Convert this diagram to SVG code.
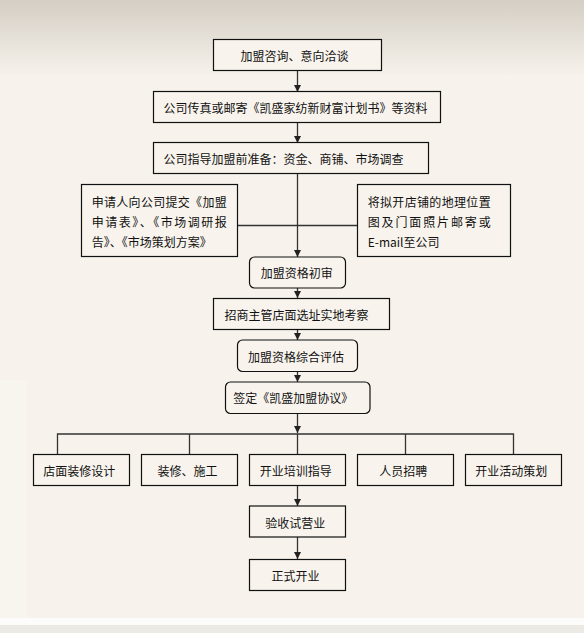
<svg xmlns="http://www.w3.org/2000/svg" width="584" height="633" viewBox="0 0 584 633">
<defs>
<linearGradient id="topg" x1="0" y1="0" x2="0" y2="1">
<stop offset="0" stop-color="#d4cec4"/>
<stop offset="1" stop-color="#f6f2eb"/>
</linearGradient>
<marker id="arr" markerUnits="userSpaceOnUse" markerWidth="8" markerHeight="8" refX="7" refY="3.5" orient="auto">
<path d="M0,0 L7,3.5 L0,7 z" fill="#222"/>
</marker>
<style>
.box{fill:#f8f4ed;stroke:#111;stroke-width:1.2}
.t{font-family:"Noto Sans CJK SC","Noto Sans",sans-serif;font-size:12px;fill:#111;dominant-baseline:central}
.m{text-anchor:middle}
.c{fill:none;stroke:#333;stroke-width:1.3}
.ca{fill:none;stroke:#333;stroke-width:1.3;marker-end:url(#arr)}
</style>
</defs>
<rect x="0" y="0" width="584" height="633" fill="#f7f3ec"/>
<rect x="0" y="0" width="584" height="75" fill="url(#topg)"/>
<rect x="0" y="380" width="27" height="238" fill="#f8f5ef"/>
<rect x="0" y="618" width="584" height="7" fill="#fcfcfa"/>
<rect x="0" y="625" width="584" height="8" fill="#ebeae5"/>

<g id="connectors">
<line class="ca" x1="297.5" y1="70" x2="297.5" y2="92"/>
<line class="ca" x1="297.5" y1="122" x2="297.5" y2="143"/>
<line class="ca" x1="297.5" y1="173" x2="297.5" y2="257"/>
<line class="c" x1="237.5" y1="225.5" x2="357.5" y2="225.5"/>
<line class="ca" x1="297.5" y1="288" x2="297.5" y2="298"/>
<line class="ca" x1="297.5" y1="329" x2="297.5" y2="340"/>
<line class="ca" x1="297.5" y1="371.5" x2="297.5" y2="382"/>
<line class="ca" x1="297.5" y1="413" x2="297.5" y2="433"/>
<polyline class="c" points="57.5,454 57.5,434 513.5,434 513.5,454"/>
<line class="c" x1="189.5" y1="434" x2="189.5" y2="454"/>
<line class="c" x1="297.5" y1="434" x2="297.5" y2="454"/>
<line class="c" x1="405.5" y1="434" x2="405.5" y2="454"/>
<line class="ca" x1="297.5" y1="485.5" x2="297.5" y2="506"/>
<line class="ca" x1="297.5" y1="537" x2="297.5" y2="559"/>
</g>

<g id="n1"><rect class="box" x="213.5" y="39.5" width="168" height="31"/><text class="t m" x="294.5" y="55">加盟咨询、意向洽谈</text></g>
<g id="n2"><rect class="box" x="153.5" y="91.5" width="287" height="31"/><text class="t" x="163.5" y="107">公司传真或邮寄《凯盛家纺新财富计划书》等资料</text></g>
<g id="n3"><rect class="box" x="153.5" y="142.5" width="275" height="31"/><text class="t" x="163.5" y="158">公司指导加盟前准备：资金、商铺、市场调查</text></g>
<g id="n4"><rect class="box" x="81.5" y="184.5" width="156" height="72"/>
<text class="t" x="91.7" y="201.7" textLength="135" lengthAdjust="spacing">申请人向公司提交《加盟</text>
<text class="t" x="91.7" y="221.7" textLength="135" lengthAdjust="spacing">申请表》、《市场调研报</text>
<text class="t" x="91.7" y="241.7">告》、《市场策划方案》</text></g>
<g id="n5"><rect class="box" x="357.5" y="184.5" width="153" height="72"/>
<text class="t" x="367.7" y="201.7" textLength="123" lengthAdjust="spacing">将拟开店铺的地理位置</text>
<text class="t" x="367.7" y="221.7" textLength="123" lengthAdjust="spacing">图及门面照片邮寄或</text>
<text class="t" x="367.7" y="241.7">E-mail至公司</text></g>
<g id="n6"><rect class="box" x="249.5" y="257" width="96" height="31" rx="5"/><text class="t m" x="296.7" y="272.5">加盟资格初审</text></g>
<g id="n7"><rect class="box" x="213.5" y="298.5" width="176" height="31"/><text class="t" x="224.6" y="314">招商主管店面选址实地考察</text></g>
<g id="n8"><rect class="box" x="237.5" y="340" width="120" height="31.5" rx="5"/><text class="t m" x="296" y="356">加盟资格综合评估</text></g>
<g id="n9"><rect class="box" x="225.5" y="382" width="144.5" height="31.5" rx="5"/><text class="t m" x="293.3" y="397.5">签定《凯盛加盟协议》</text></g>
<g id="n10"><rect class="box" x="33.5" y="454.5" width="96" height="31"/><text class="t m" x="79.3" y="470">店面装修设计</text></g>
<g id="n11"><rect class="box" x="141.5" y="454.5" width="96" height="31"/><text class="t m" x="187.4" y="470">装修、施工</text></g>
<g id="n12"><rect class="box" x="249.5" y="454.5" width="96" height="31"/><text class="t m" x="295.8" y="470">开业培训指导</text></g>
<g id="n13"><rect class="box" x="357.5" y="454.5" width="96" height="31"/><text class="t m" x="403.3" y="470">人员招聘</text></g>
<g id="n14"><rect class="box" x="465.5" y="454.5" width="96" height="31"/><text class="t m" x="511.2" y="470">开业活动策划</text></g>
<g id="n15"><rect class="box" x="249.5" y="506" width="96" height="31"/><text class="t m" x="295.3" y="522">验收试营业</text></g>
<g id="n16"><rect class="box" x="249.5" y="559.5" width="96" height="31"/><text class="t m" x="295.5" y="575.5">正式开业</text></g>
</svg>
